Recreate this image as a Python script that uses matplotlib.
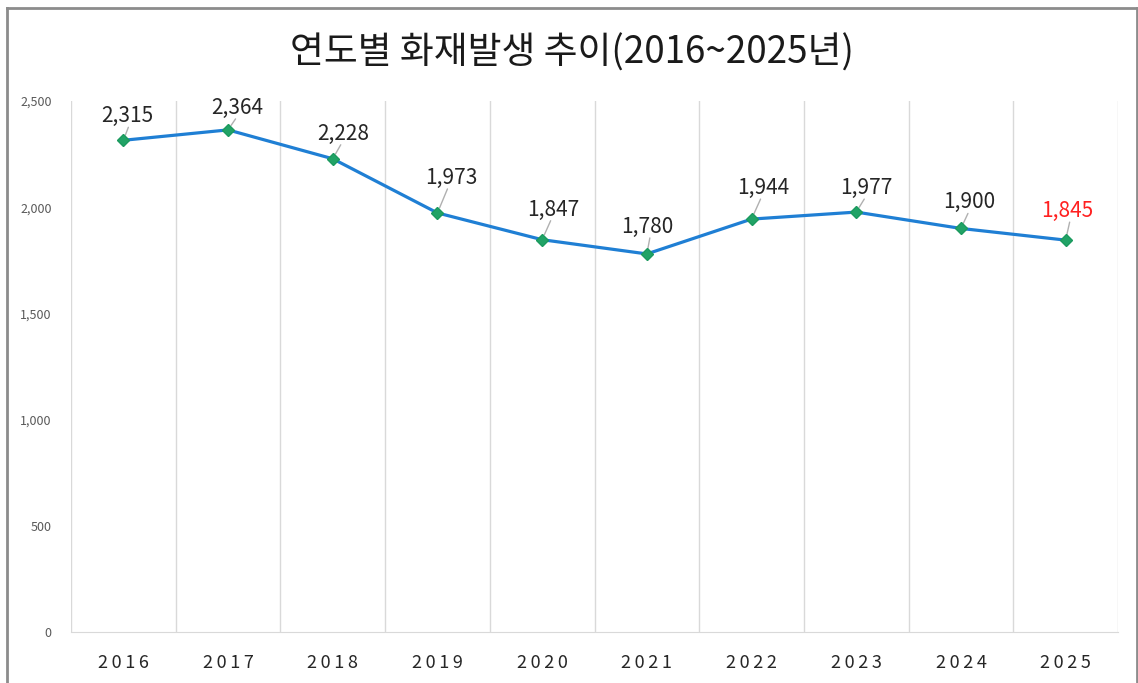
import numpy as np
import matplotlib
matplotlib.use('Agg')
import matplotlib.pyplot as plt
from matplotlib.lines import Line2D

plt.rcParams['font.family'] = ['Noto Sans CJK KR', 'DejaVu Sans']

# data
years = ['2016', '2017', '2018', '2019', '2020', '2021', '2022', '2023', '2024', '2025']
fires = [2315, 2364, 2228, 1973, 1847, 1780, 1944, 1977, 1900, 1845]
title = '연도별 화재발생 추이(2016~2025년)'

# label offsets in pixels (style only)
lab_dx = [4, 9, 10, 14, 11, 0, 12, 10, 8, 2]
lab_dy = [26, 24, 27, 37, 32, 29, 33, 26, 28, 31]

fig = plt.figure(figsize=(11.38, 6.83), dpi=100)
ax = fig.add_axes([71 / 1138, 1 - 632 / 683, (1118 - 71) / 1138, (632 - 101) / 683])

x = np.arange(len(years))
ax.plot(x, fires, color='#1f7fd4', lw=2.3, zorder=3)
ax.plot(x, fires, ls='none', marker='D', ms=6.5, mfc='#21a366', mec='#1b9a5e', zorder=4)

px = 72 / 100  # points per pixel
for i, v in enumerate(fires):
    col = '#ff2020' if i == len(fires) - 1 else '#262626'
    ax.annotate(f'{v:,}', (x[i], v), xytext=(lab_dx[i] * px, (lab_dy[i] - 2) * px),
                textcoords='offset points', ha='center', va='center',
                fontsize=15, color=col, zorder=5)
    # leader line
    ax.annotate('', (x[i], v), xytext=((lab_dx[i] * 0.5 + 3) * px, (lab_dy[i] - 13) * px),
                textcoords='offset points',
                arrowprops=dict(arrowstyle='-', color='#b0b0b0', lw=1, shrinkA=0, shrinkB=4))

ax.set_xlim(-0.5, len(years) - 0.5)
ax.set_ylim(0, 2500)
ax.set_yticks(np.arange(0, 2501, 500))
ax.set_yticklabels([f'{t:,}' for t in range(0, 2501, 500)], fontsize=9, color='#595959')
ax.set_xticks(x)
ax.set_xticklabels(['\u2009'.join(y) for y in years], fontsize=13, color='#262626')
ax.set_xticks(np.arange(-0.5, len(years)), minor=True)
ax.tick_params(axis='both', which='both', length=0)
ax.tick_params(axis='y', pad=14)
ax.tick_params(axis='x', pad=16)
ax.grid(True, axis='x', which='minor', color='#d9d9d9', lw=1)
for s in ['top', 'left', 'right']:
    ax.spines[s].set_visible(False)
ax.spines['bottom'].set_color('#d9d9d9')

fig.text(572 / 1138, 1 - 53 / 683, title, ha='center', va='center', fontsize=26.5, color='#1a1a1a')

# outer frame
bc = '#8c8c8c'
fig.add_artist(Line2D([6.5 / 1138, 6.5 / 1138], [0, 1 - 7.5 / 683], color=bc, lw=2))
fig.add_artist(Line2D([6.5 / 1138, 1136.5 / 1138], [1 - 7.5 / 683, 1 - 7.5 / 683], color=bc, lw=2))
fig.add_artist(Line2D([1136.5 / 1138, 1136.5 / 1138], [0, 1 - 7.5 / 683], color=bc, lw=2))

fig.savefig('out.png', dpi=100)
